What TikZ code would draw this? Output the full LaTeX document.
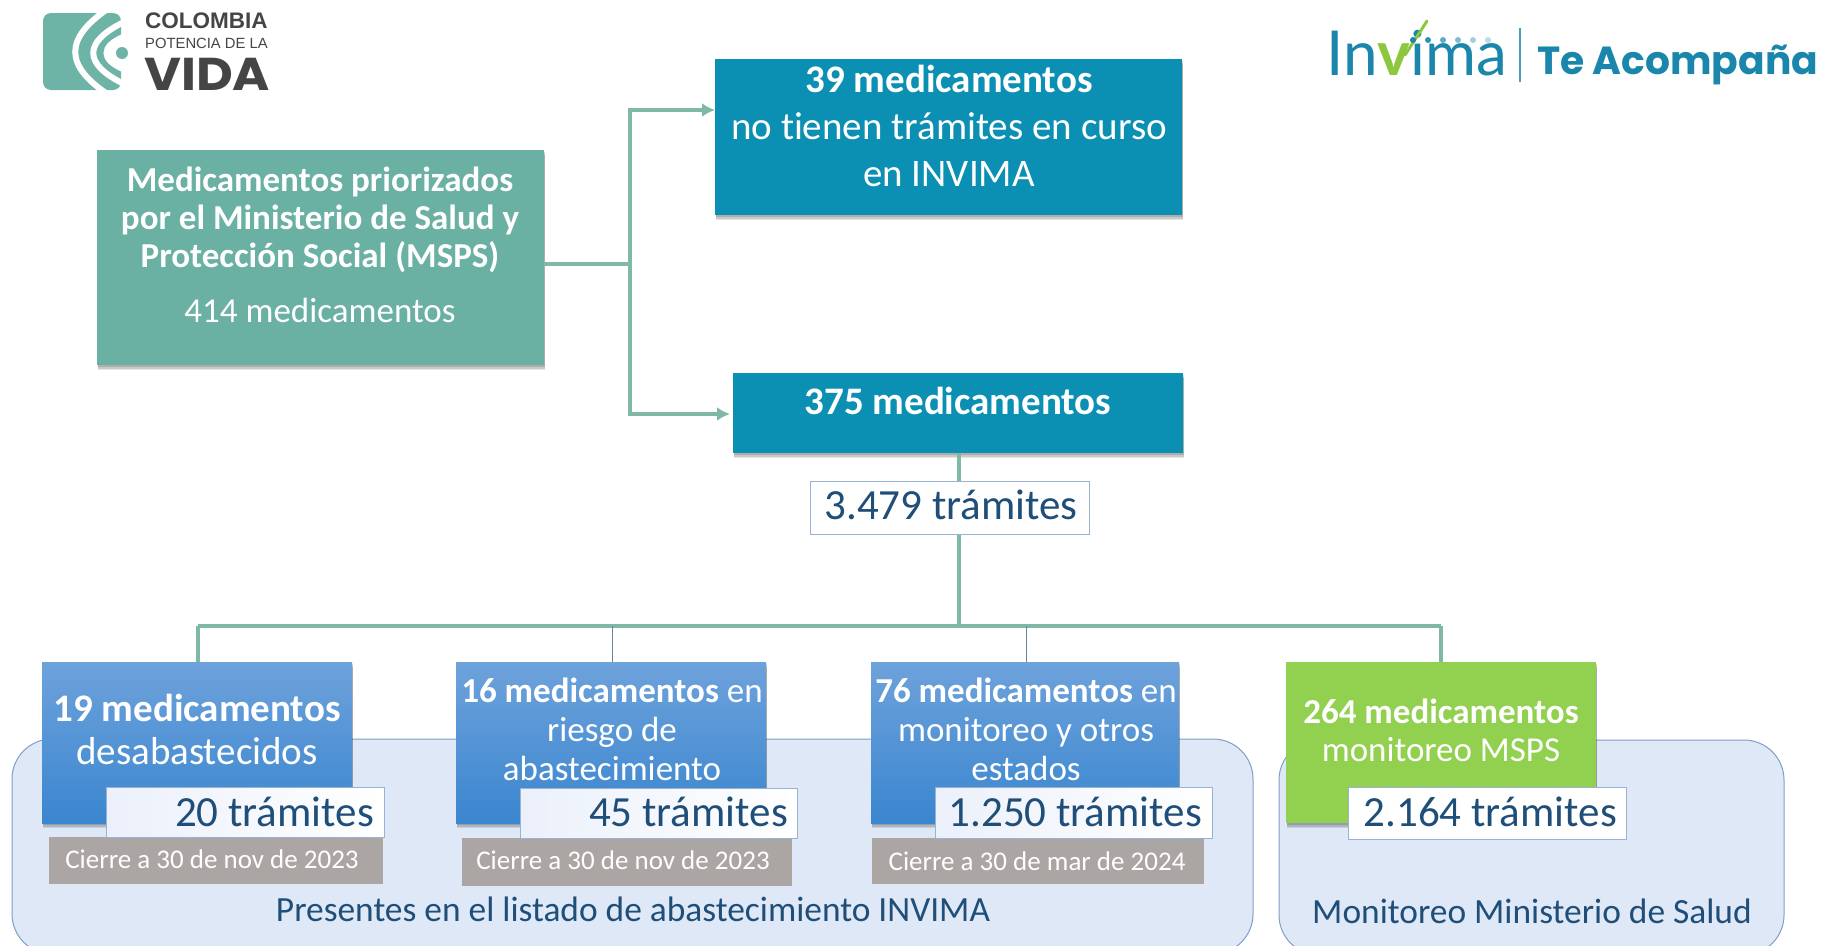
\documentclass[tikz,border=0pt]{standalone}
\usepackage{fontspec}
\setmainfont[Ligatures=NoCommon]{Carlito}
\newfontfamily\popfont{Poppins}
\newfontfamily\arialfont{Liberation Sans}
\newfontfamily\latofont{Lato}
\usetikzlibrary{shadows,arrows.meta}
\newcommand\fsz[2]{\fontsize{#1}{#2}\selectfont}
\definecolor{tealbox}{HTML}{6AB0A3}
\definecolor{petrol}{HTML}{0B8FB3}
\definecolor{conn}{HTML}{7FB9A6}
\definecolor{bluetop}{HTML}{6EA2DB}
\definecolor{bluebot}{HTML}{3A86CF}
\definecolor{limebox}{HTML}{92D050}
\definecolor{greybox}{HTML}{ABA6A3}
\definecolor{panelfill}{HTML}{DEE8F6}
\definecolor{panelline}{HTML}{7F9FC8}
\definecolor{navy}{HTML}{1F4E79}
\definecolor{logoteal}{HTML}{6DB3A6}
\definecolor{invblue}{HTML}{1A86AB}
\definecolor{invgreen}{HTML}{8DC63F}
\definecolor{logogrey}{HTML}{454545}
\tikzset{
  base/.style={inner sep=0pt,outer sep=0pt,anchor=north west},
  softshadow/.style={
    drop shadow={shadow xshift=1pt,shadow yshift=-5pt,opacity=.10,fill=black},
    drop shadow={shadow xshift=1pt,shadow yshift=-3.5pt,opacity=.12,fill=black},
    drop shadow={shadow xshift=.5pt,shadow yshift=-2pt,opacity=.14,fill=black}},
  tealcard/.style={base,fill=tealbox,softshadow},
  petrolcard/.style={base,fill=petrol,softshadow},
  bluecard/.style={base,top color=bluetop,bottom color=bluebot,softshadow},
  limecard/.style={base,fill=limebox,softshadow},
  whitecard/.style={base,draw=panelline!80,line width=1pt,left color=blue!3!panelfill!50,right color=white},
  plainwhite/.style={base,draw=panelline!80,line width=1pt,fill=white},
  greycard/.style={base,fill=greybox},
  panel/.style={base,fill=panelfill,draw=panelline,line width=1pt,rounded corners=40pt},
  link/.style={draw=conn,line width=4pt},
  thinlink/.style={draw=navy!70,line width=1pt},
  arrowlink/.style={link,-{Latex[length=13pt,width=14pt]}},
  whitetxt/.style={inner sep=0pt,text=white,align=center},
  navytxt/.style={inner sep=0pt,text=navy,align=center},
}
\begin{document}
\begin{tikzpicture}[x=1pt,y=-1pt]
\useasboundingbox (0,0) rectangle (1822,945);
% panels
\node[panel,minimum width=1241pt,minimum height=215pt] (panelA) at (12,739) {};
\node[panel,minimum width=505pt,minimum height=215pt] (panelB) at (1279,740) {};
% coordinates
\coordinate (src) at (544,264);
\coordinate (trunkT) at (630,110);
\coordinate (trunkM) at (630,264);
\coordinate (trunkB) at (630,414);
\coordinate (busM) at (959,626);
\coordinate (busL) at (198,626);
\coordinate (busR) at (1441,626);
\coordinate (busA) at (612,626);
\coordinate (busB) at (1026,626);
% cards
\node[tealcard,minimum width=447pt,minimum height=215pt] (green) at (97,150) {};
\node[petrolcard,minimum width=467pt,minimum height=156pt] (box39) at (715,59) {};
\node[petrolcard,minimum width=450pt,minimum height=80pt] (box375) at (733,373) {};
% connectors
\draw[link] (src) -- (trunkM);
\draw[arrowlink] (trunkM) -- (trunkT) -- (box39.west |- trunkT);
\draw[arrowlink] (trunkM) -- (trunkB) -- ([xshift=-3pt]box375.west |- trunkB);
\draw[link] (box375.south -| busM) -- (busM);
\draw[link] (busL) -- (busR);
\node[bluecard,minimum width=310pt,minimum height=161pt] (blue1) at (42,662) {};
\node[bluecard,minimum width=310pt,minimum height=161pt] (blue2) at (456,662) {};
\node[bluecard,minimum width=308pt,minimum height=161pt] (blue3) at (871,662) {};
\node[limecard,minimum width=310pt,minimum height=161pt] (lime) at (1286,662) {};
\draw[link] (busL) -- (blue1.north -| busL);
\draw[link] (busR) -- (lime.north -| busR);
\draw[thinlink] (busA) -- (blue2.north -| busA);
\draw[thinlink] (busB) -- (blue3.north -| busB);
% total box
\node[plainwhite,minimum width=279pt,minimum height=53pt] (total) at (810,481) {};
% grey + white tags
\node[greycard,minimum width=334pt,minimum height=47pt] (grey1) at (49,837) {};
\node[greycard,minimum width=330pt,minimum height=48pt] (grey2) at (462,838) {};
\node[greycard,minimum width=332pt,minimum height=46pt] (grey3) at (872,838) {};
\node[whitecard,minimum width=278pt,minimum height=50pt] (tag1) at (106,787) {};
\node[whitecard,minimum width=277pt,minimum height=50pt] (tag2) at (520,788) {};
\node[whitecard,minimum width=277pt,minimum height=51pt] (tag3) at (935,787) {};
\node[plainwhite,minimum width=278pt,minimum height=52pt] (tag4) at (1348,787) {};
% texts
\node[whitetxt,font=\fsz{35}{38},anchor=center] (tGreen) at (320,220) {\textbf{Medicamentos priorizados}\\\textbf{por el Ministerio de Salud y}\\\textbf{Protección Social (MSPS)}};
\node[whitetxt,font=\fsz{35}{38},anchor=center] (tGreenB) at (320,310) {414 medicamentos};
\node[whitetxt,font=\fsz{39}{47},anchor=center] (t39) at (949,126) {\textbf{39 medicamentos}\\no tienen trámites en curso\\en INVIMA};
\node[whitetxt,font=\fsz{39}{47},anchor=center] (t375) at (958,401) {\textbf{375 medicamentos}};
\node[navytxt,font=\fsz{43}{47},anchor=center] (tTotal) at (951,505) {3.479 trámites};
\node[whitetxt,font=\fsz{39}{43},anchor=center] (t19) at (197,729) {\textbf{19 medicamentos}\\desabastecidos};
\node[whitetxt,font=\fsz{35}{39},anchor=center] (t16) at (612,729) {\textbf{16 medicamentos} en\\riesgo de\\abastecimiento};
\node[whitetxt,font=\fsz{35}{39},anchor=center] (t76) at (1026,729) {\textbf{76 medicamentos} en\\monitoreo y otros\\estados};
\node[whitetxt,font=\fsz{35}{38},anchor=center] (t264) at (1441,730) {\textbf{264 medicamentos}\\monitoreo MSPS};
\node[navytxt,font=\fsz{43}{47},anchor=east] (tt1) at (374,812) {20 trámites};
\node[navytxt,font=\fsz{43}{47},anchor=east] (tt2) at (788,812) {45 trámites};
\node[navytxt,font=\fsz{43}{47},anchor=east] (tt3) at (1202,812) {1.250 trámites};
\node[navytxt,font=\fsz{43}{47},anchor=east] (tt4) at (1617,812) {2.164 trámites};
\node[whitetxt,font=\fsz{27}{30},anchor=center] (tg1) at (212,859) {Cierre a 30 de nov de 2023};
\node[whitetxt,font=\fsz{27}{30},anchor=center] (tg2) at (623,860) {Cierre a 30 de nov de 2023};
\node[whitetxt,font=\fsz{27}{30},anchor=center] (tg3) at (1037,861) {Cierre a 30 de mar de 2024};
\node[navytxt,font=\fsz{35.4}{36},anchor=center] (tPres) at (633,909) {Presentes en el listado de abastecimiento INVIMA};
\node[navytxt,font=\fsz{35.4}{36},anchor=center] (tMon) at (1532,911) {Monitoreo Ministerio de Salud};
% Colombia logo
\fill[logoteal,rounded corners=8pt] (43,13) rectangle (121,90);
\draw[white,line width=6pt] (112,6) .. controls (63,38) and (63,66) .. (112,97);
\draw[white,line width=6pt] (124,22) .. controls (83,42) and (83,64) .. (124,84);
\fill[white] (124,36) .. controls (100,46) and (100,60) .. (124,70) -- cycle;
\draw[white,line width=5pt] (124,36) .. controls (100,46) and (100,60) .. (124,70);
\fill[logoteal] (122,53) circle (6pt);
\node[inner sep=0pt,anchor=base west,text=logogrey,font=\arialfont\bfseries\fsz{22.5}{23}] (lg1) at (145,28) {COLOMBIA};
\node[inner sep=0pt,anchor=base west,text=logogrey,font=\arialfont\fsz{14.8}{15}] (lg2) at (145,48) {POTENCIA DE LA};
\node[inner sep=0pt,anchor=base west,text=logogrey,font=\popfont\bfseries\fsz{46}{46}] (lg3) at (144,90) {\scalebox{1.1}[1]{VIDA}};
% Invima logo
\node[inner sep=0pt,anchor=base west,text=invblue,font=\latofont\fsz{62}{62}] (lgInv) at (1326,75) {In{\color{invgreen}\bfseries v}ima};
\draw[invgreen,line width=3pt,line cap=round] (1405,55) -- (1427,21);
\foreach \x/\o in {1413/1,1428/.9,1443/.7,1458/.55,1473/.4,1488/.3}
  \fill[invblue,opacity=\o] (\x,40) circle (3pt);
\draw[invblue!80,line width=1.5pt] (1520,28) -- (1520,82);
\node[inner sep=0pt,anchor=base west,text=invblue,font=\popfont\bfseries\fsz{39.2}{40}] (lgTe) at (1537,74) {Te Acompaña};
\end{tikzpicture}
\end{document}
